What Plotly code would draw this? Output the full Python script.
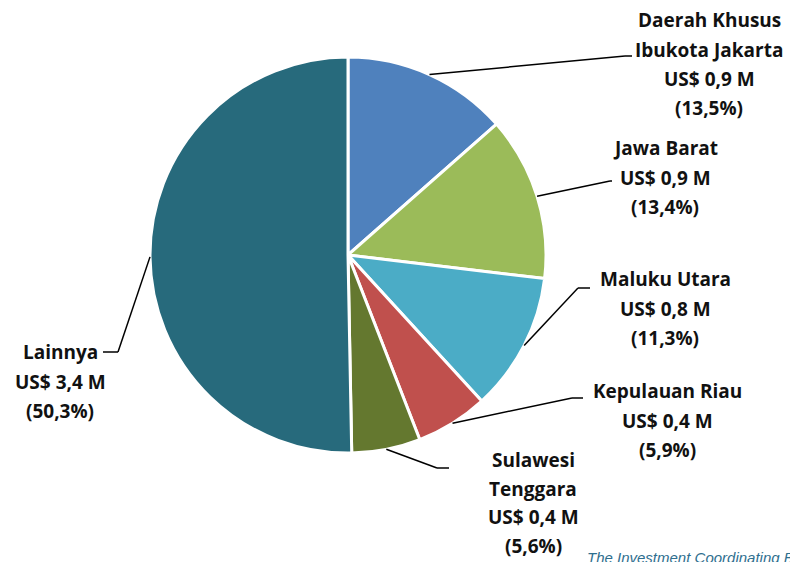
import math
import plotly.graph_objects as go

# ---- data ----
regions = ["Daerah Khusus Ibukota Jakarta", "Jawa Barat", "Maluku Utara",
           "Kepulauan Riau", "Sulawesi Tenggara", "Lainnya"]
values_musd = [0.9, 0.9, 0.8, 0.4, 0.4, 3.4]
shares_pct = [13.5, 13.4, 11.3, 5.9, 5.6, 50.3]
label_lines = [
    ["Daerah Khusus", "Ibukota Jakarta", "US$ 0,9 M", "(13,5%)"],
    ["Jawa Barat", "US$ 0,9 M", "(13,4%)"],
    ["Maluku Utara", "US$ 0,8 M", "(11,3%)"],
    ["Kepulauan Riau", "US$ 0,4 M", "(5,9%)"],
    ["Sulawesi", "Tenggara", "US$ 0,4 M", "(5,6%)"],
    ["Lainnya", "US$ 3,4 M", "(50,3%)"],
]
colors = ["#4F81BD", "#9BBB59", "#4BACC6", "#C0504D", "#64782F", "#276A7C"]
source_text = "The Investment Coordinating Board"

# ---- layout geometry (pixels) ----
W, H = 790, 562
cx, cy, R = 348, 255, 198
# label block: (center x, first line center y, line spacing)
label_pos = [(709, 20, 29.5), (665, 148, 29.5), (665, 279, 29.5), (667, 391, 29.5),
             (533, 460, 28.5), (60, 352, 29.5)]
# leader elbow points: (elbow x, elbow y, end x)
elbows = [(625, 56, 632), (610, 181, 612), (578, 288, 590), (572, 398, 583),
          (437, 468, 449), (118, 352, 103)]

def px(x):
    return x / W

def py(y):
    return 1 - y / H

fig = go.Figure(go.Pie(
    labels=regions,
    values=shares_pct,
    sort=False,
    direction="clockwise",
    rotation=0,
    marker=dict(colors=colors, line=dict(color="white", width=3)),
    textinfo="none",
    hoverinfo="label+percent",
    showlegend=False,
    domain=dict(x=[px(cx - R), px(cx + R)], y=[py(cy + R), py(cy - R)]),
))

annotations = []
shapes = []
total = sum(shares_pct)
cum = 0
for i, lines in enumerate(label_lines):
    mid = (cum + shares_pct[i] / 2) / total * 2 * math.pi
    cum += shares_pct[i]
    sx = cx + R * math.sin(mid)
    sy = cy - R * math.cos(mid)
    ex, ey, hx = elbows[i]
    shapes.append(dict(type="line", xref="paper", yref="paper",
                       x0=px(sx), y0=py(sy), x1=px(ex), y1=py(ey),
                       line=dict(color="black", width=1.5)))
    shapes.append(dict(type="line", xref="paper", yref="paper",
                       x0=px(ex), y0=py(ey), x1=px(hx), y1=py(ey),
                       line=dict(color="black", width=1.5)))
    lx, ly, lh = label_pos[i]
    for j, t in enumerate(lines):
        annotations.append(dict(
            text="<b>" + t + "</b>", x=px(lx), y=py(ly + j * lh),
            xref="paper", yref="paper", xanchor="center", yanchor="middle",
            showarrow=False,
            font=dict(family="Open Sans, Noto Sans, sans-serif", size=19, color="#111111")))

annotations.append(dict(
    text="<i>" + source_text + "</i>", x=px(585), y=py(557),
    xref="paper", yref="paper", xanchor="left", yanchor="middle",
    showarrow=False, font=dict(family="Liberation Sans, Arial, sans-serif", size=15, color="#2F6F8F")))

fig.update_layout(
    width=W, height=H,
    margin=dict(l=0, r=0, t=0, b=0),
    paper_bgcolor="white", plot_bgcolor="white",
    annotations=annotations, shapes=shapes,
)
fig.write_html("out.html", config={"displayModeBar": False},
               post_script="document.body.style.margin='0';")
